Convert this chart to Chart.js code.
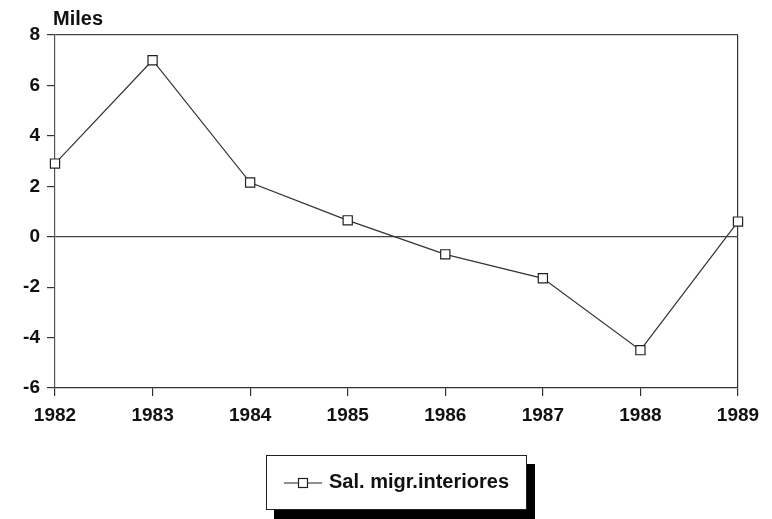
<!DOCTYPE html>
<html>
<head>
<meta charset="utf-8">
<script src="https://cdn.jsdelivr.net/npm/chart.js@4/dist/chart.umd.min.js"></script>
<style>
  html, body { margin: 0; padding: 0; background: #fff; }
  #wrap { position: relative; width: 772px; height: 519px; overflow: hidden; }
  #unit { position: absolute; left: 53px; top: 7px; font: bold 20px "Liberation Sans", Arial, sans-serif; color: #111; }
  #legend { position: absolute; left: 266px; top: 455px; width: 261px; height: 55px; box-sizing: border-box;
            border: 1px solid #222; background: #fff; box-shadow: 8px 9px 0 #000; }
  #legend svg { position: absolute; left: 17px; top: 20px; }
  #legend span { position: absolute; left: 62px; top: 14px; font: bold 20px "Liberation Sans", Arial, sans-serif; color: #111; white-space: nowrap; }
</style>
</head>
<body>
<div id="wrap">
  <canvas id="c" width="772" height="519"></canvas>
  <div id="unit">Miles</div>
  <div id="legend">
    <svg width="40" height="14"><line x1="0" y1="7" x2="38" y2="7" stroke="#222" stroke-width="1.2"/><rect x="14.5" y="2.5" width="9" height="9" fill="#fff" stroke="#222" stroke-width="1.2"/></svg>
    <span id="legtext"></span>
  </div>
</div>
<script>
const years = ['1982', '1983', '1984', '1985', '1986', '1987', '1988', '1989'];
const salidasMigrInteriores = [2.9, 7.0, 2.15, 0.65, -0.7, -1.65, -4.5, 0.6];
const seriesLabel = 'Sal. migr.interiores';
const yTicks = [-6, -4, -2, 0, 2, 4, 6, 8];

document.getElementById('legtext').textContent = seriesLabel;

const tickFont = { family: '"Liberation Sans", Arial, sans-serif', size: 19, weight: 'bold' };

new Chart(document.getElementById('c'), {
  type: 'line',
  data: {
    labels: years,
    datasets: [{
      label: seriesLabel,
      data: salidasMigrInteriores,
      borderColor: '#333',
      borderWidth: 1.2,
      pointStyle: 'rect',
      pointRadius: 6.5,
      pointBackgroundColor: '#fff',
      pointBorderColor: '#222',
      pointBorderWidth: 1.2,
      tension: 0,
      clip: false
    }]
  },
  options: {
    responsive: false,
    animation: false,
    devicePixelRatio: 1,
    layout: { padding: { left: 0, top: 35, right: 34, bottom: 91 } },
    plugins: { legend: { display: false }, tooltip: { enabled: false }, title: { display: false } },
    scales: {
      x: {
        type: 'category',
        offset: false,
        afterFit: s => { s.height = 40; },
        border: { display: true, color: '#333', width: 1.2 },
        grid: {
          drawOnChartArea: true,
          color: ctx => ctx.index === years.length - 1 ? '#333' : 'rgba(0,0,0,0)',
          lineWidth: 1.2,
          tickColor: '#333',
          tickLength: 8
        },
        ticks: { color: '#111', font: tickFont, padding: 8, maxRotation: 0, autoSkip: false }
      },
      y: {
        min: -6, max: 8,
        afterFit: s => { s.width = 55; },
        afterBuildTicks: s => { s.ticks = yTicks.map(v => ({ value: v })); },
        border: { display: true, color: '#555', width: 1.2 },
        grid: {
          drawOnChartArea: true,
          color: ctx => (ctx.tick && (ctx.tick.value === 0 || ctx.tick.value === 8)) ? '#444' : 'rgba(0,0,0,0)',
          lineWidth: 1.2,
          tickColor: '#333',
          tickLength: 8
        },
        ticks: { color: '#111', font: tickFont, padding: 7 }
      }
    }
  }
});
</script>
</body>
</html>
